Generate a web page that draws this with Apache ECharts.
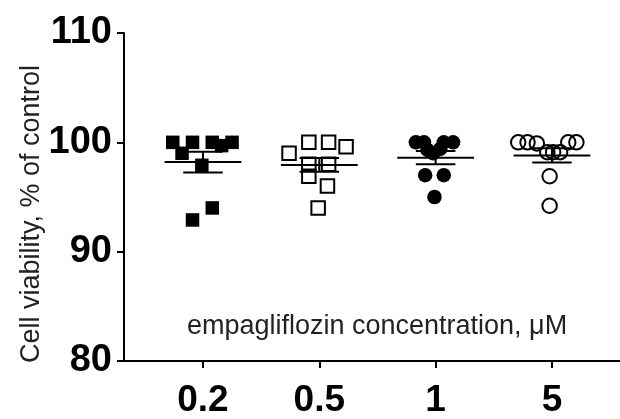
<!DOCTYPE html>
<html>
<head>
<meta charset="utf-8">
<script src="https://cdn.jsdelivr.net/npm/echarts@6/dist/echarts.min.js"></script>
<style>html,body{margin:0;padding:0;background:#fff}#c{width:620px;height:419px}</style>
</head>
<body>
<div id="c"></div>
<script>
// ---- data ----
var categories = ['0.2', '0.5', '1', '5'];
var yTicks = [80, 90, 100, 110];
var values02 = [100, 100, 99.0, 100, 99.7, 100, 97.9, 92.9, 94.0];
var values05 = [99.0, 100, 100, 99.6, 98.0, 98.0, 96.9, 96.0, 94.0];
var values1  = [100, 100, 100, 100, 99.3, 99.0, 99.4, 97.0, 97.0, 95.0];
var values5  = [100, 100, 99.9, 100, 100, 99.1, 99.1, 99.1, 96.9, 94.2];
var jitter02 = [-0.26, -0.09, -0.18, 0.08, 0.16, 0.25, -0.01, -0.09, 0.08];
var jitter05 = [-0.26, -0.09, 0.08, 0.23, -0.09, 0.08, -0.09, 0.07, -0.01];
var jitter1  = [-0.17, -0.10, 0.07, 0.15, -0.07, -0.02, 0.04, -0.09, 0.07, -0.01];
var jitter5  = [-0.29, -0.21, -0.13, 0.14, 0.21, -0.04, 0.01, 0.07, -0.02, -0.02];
var means = [98.2, 97.93, 98.6, 98.8];
var sems  = [0.95, 0.63, 0.6, 0.65];

var groups = [values02, values05, values1, values5];
var jitters = [jitter02, jitter05, jitter1, jitter5];
var symbols = ['rect', 'rect', 'circle', 'circle'];
var filled = [true, false, true, false];

function pts(gi) {
  return groups[gi].map(function (v, i) { return [gi + 1 + jitters[gi][i], v]; });
}

var series = groups.map(function (g, gi) {
  return {
    type: 'scatter',
    data: pts(gi),
    symbol: symbols[gi],
    symbolSize: symbols[gi] === 'rect' ? 13.5 : 14.5,
    itemStyle: filled[gi]
      ? { color: '#000', borderWidth: 0, opacity: 1 }
      : { color: 'rgba(255,255,255,0)', borderColor: '#000', borderWidth: 2, opacity: 1 },
    z: 2,
    silent: true
  };
});

series.push({
  type: 'custom',
  z: 3,
  silent: true,
  data: means.map(function (m, i) { return [i + 1, m, sems[i]]; }),
  renderItem: function (params, api) {
    var x = api.value(0), m = api.value(1), s = api.value(2);
    var st = { stroke: '#000', lineWidth: 2 };
    function seg(x1, y1, x2, y2) {
      var a = api.coord([x1, y1]), b = api.coord([x2, y2]);
      return { type: 'line', shape: { x1: a[0], y1: a[1], x2: b[0], y2: b[1] }, style: st };
    }
    return {
      type: 'group',
      children: [
        seg(x - 0.33, m, x + 0.33, m),
        seg(x, m - s, x, m + s),
        seg(x - 0.17, m - s, x + 0.17, m - s),
        seg(x - 0.17, m + s, x + 0.17, m + s)
      ]
    };
  }
});

var chart = echarts.init(document.getElementById('c'));
chart.setOption({
  animation: false,
  backgroundColor: '#fff',
  grid: { left: 124, right: 0, top: 33, bottom: 54 },
  xAxis: {
    type: 'value',
    min: 0.321,
    max: 4.585,
    splitLine: { show: false },
    axisLine: { show: true, onZero: false, lineStyle: { color: '#000', width: 2 } },
    axisTick: { show: true, customValues: [1, 2, 3, 4], length: 7, lineStyle: { color: '#000', width: 2 } },
    axisLabel: {
      customValues: [1, 2, 3, 4],
      formatter: function (v) { return categories[Math.round(v) - 1]; },
      color: '#000', fontSize: 37, fontWeight: 'bold', fontFamily: 'Liberation Sans, Arial, sans-serif',
      margin: 21
    }
  },
  yAxis: {
    type: 'value',
    min: yTicks[0],
    max: yTicks[yTicks.length - 1],
    interval: 10,
    splitLine: { show: false },
    axisLine: { show: true, lineStyle: { color: '#000', width: 2 } },
    axisTick: { show: true, length: 7, lineStyle: { color: '#000', width: 2 } },
    axisLabel: {
      color: '#000', fontSize: 38, fontWeight: 'bold', fontFamily: 'Liberation Sans, Arial, sans-serif',
      margin: 12
    }
  },
  graphic: [
    {
      type: 'text',
      x: 32, y: 214,
      rotation: Math.PI / 2,
      style: {
        text: 'Cell viability, % of control',
        fill: '#222', fontSize: 27, fontFamily: 'Liberation Sans, Arial, sans-serif',
        align: 'center', verticalAlign: 'middle'
      }
    },
    {
      type: 'text',
      x: 377, y: 327,
      style: {
        text: 'empagliflozin concentration, \u03bcM',
        fill: '#222', fontSize: 27, fontFamily: 'Liberation Sans, Arial, sans-serif',
        align: 'center', verticalAlign: 'middle'
      }
    }
  ],
  series: series
});
</script>
</body>
</html>
